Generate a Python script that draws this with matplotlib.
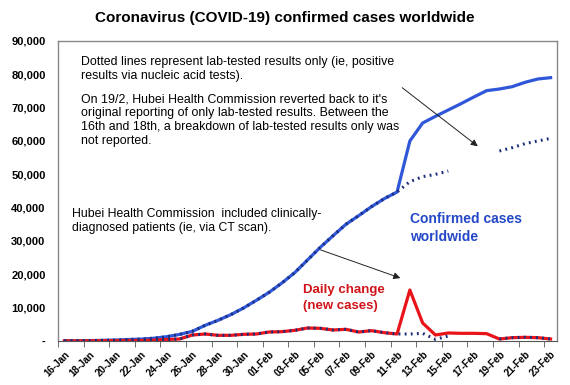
import numpy as np
import pandas as pd
import matplotlib
matplotlib.use("Agg")
import matplotlib.pyplot as plt
from matplotlib.patches import FancyArrowPatch
from matplotlib.ticker import FuncFormatter

plt.rcParams['font.family'] = ['Liberation Sans', 'DejaVu Sans']

# data
dates = pd.date_range("2020-01-16", "2020-02-23", freq="D")
tick_labels = [d.strftime("%d-%b") for d in dates]

confirmed = [45, 62, 121, 198, 291, 440, 571, 830, 1287, 1975,
             2900, 4700, 6200, 7900, 9900, 12200, 14600, 17400, 20500, 24300,
             28100, 31600, 35000, 37600, 40300, 42700, 44700, 60000, 65400, 67400,
             69300, 71200, 73200, 75100, 75600, 76300, 77600, 78600, 79000]

# lab-tested only (dotted); NaN where not reported
lab_tested = [45, 62, 121, 198, 291, 440, 571, 830, 1287, 1975,
              2900, 4700, 6200, 7900, 9900, 12200, 14600, 17400, 20500, 24300,
              28100, 31600, 35000, 37600, 40300, 42700, 44700, 47800, 49300, 50000,
              51000, np.nan, np.nan, np.nan, 57000, 58000, 59200, 60000, 60800]

daily = [20, 17, 59, 77, 93, 149, 131, 259, 457, 600,
         1800, 2100, 1700, 1700, 2000, 2100, 2700, 2800, 3200, 3900,
         3800, 3300, 3500, 2700, 3100, 2500, 2100, 15300, 5400, 1800,
         2400, 2300, 2300, 2200, 600, 1000, 1100, 1000, 600]

daily_lab = [20, 17, 59, 77, 93, 149, 131, 259, 457, 600,
             1800, 2100, 1700, 1700, 2000, 2100, 2700, 2800, 3200, 3900,
             3800, 3300, 3500, 2700, 3100, 2500, 2100, 2100, 2300, 500,
             1500, np.nan, np.nan, np.nan, 600, 1000, 1100, 1000, 600]

x = np.arange(len(dates))
blue = "#2f57d8"
navy = "#1b2d7a"
red = "#e8141a"

fig = plt.figure(figsize=(5.7, 3.85), dpi=100)
ax = fig.add_axes([58 / 570, 1 - 341 / 385, 499 / 570, 300 / 385])

ax.plot(x, confirmed, color=blue, lw=2.3, zorder=3)
ax.plot(x, daily, color=red, lw=2.3, zorder=3)
ax.plot(x, lab_tested, color=navy, lw=2.2, ls=(0, (0.6, 1.4)), zorder=4)
ax.plot(x, daily_lab, color=navy, lw=2.2, ls=(0, (0.6, 1.4)), zorder=4)

ax.set_xlim(-0.5, len(dates) - 0.5)
ax.set_ylim(0, 90000)
ax.set_yticks(np.arange(0, 90001, 10000))
ax.yaxis.set_major_formatter(FuncFormatter(lambda v, p: "-" if v == 0 else f"{int(v):,}"))
ax.tick_params(axis='y', length=0, pad=9, labelsize=8)
for t in ax.get_yticklabels():
    t.set_fontweight('bold')

ax.set_xticks(x[::2])
ax.set_xticklabels(tick_labels[::2], rotation=45, ha='right', rotation_mode='anchor',
                   fontsize=7, fontweight='bold')
ax.set_xticks(np.arange(-0.5, len(dates), 2), minor=True)
ax.tick_params(axis='x', which='major', length=0, pad=6)
ax.tick_params(axis='x', which='minor', length=4, color='#555555', direction='out')

for side in ['top', 'right', 'left']:
    ax.spines[side].set_color('#888888')
    ax.spines[side].set_linewidth(1)
ax.spines['bottom'].set_color('#555555')

fig.text(0.5, 1 - 18 / 385, "Coronavirus (COVID-19) confirmed cases worldwide",
         ha='center', va='center', fontsize=11, fontweight='bold')

def px(xp, yp):
    return (xp / 570, 1 - yp / 385)

fig.text(*px(81, 69), "Dotted lines represent lab-tested results only (ie, positive\n"
         "results via nucleic acid tests).", fontsize=8.9, va='center', linespacing=1.2)
fig.text(*px(81, 120), "On 19/2, Hubei Health Commission reverted back to it's\n"
         "original reporting of only lab-tested results. Between the\n"
         "16th and 18th, a breakdown of lab-tested results only was\n"
         "not reported.", fontsize=8.9, va='center', linespacing=1.2)
fig.text(*px(72, 221), "Hubei Health Commission  included clinically-\n"
         "diagnosed patients (ie, via CT scan).", fontsize=8.8, va='center', linespacing=1.25)
fig.text(*px(410, 228), "Confirmed cases\nworldwide", fontsize=10, fontweight='bold',
         color="#2448c8", va='center', linespacing=1.3)
fig.text(*px(303, 298), "Daily change\n(new cases)", fontsize=9.5, fontweight='bold',
         color="#d0141a", va='center', linespacing=1.35)

fig.patches.append(FancyArrowPatch(
    px(400, 86), px(480, 148), transform=fig.transFigure,
    arrowstyle='-|>', mutation_scale=10, color='#222222', lw=0.7))
fig.patches.append(FancyArrowPatch(
    px(318, 249), px(403, 279), transform=fig.transFigure,
    arrowstyle='-|>', mutation_scale=10, color='#222222', lw=0.7))

fig.savefig("out.png", dpi=100)
